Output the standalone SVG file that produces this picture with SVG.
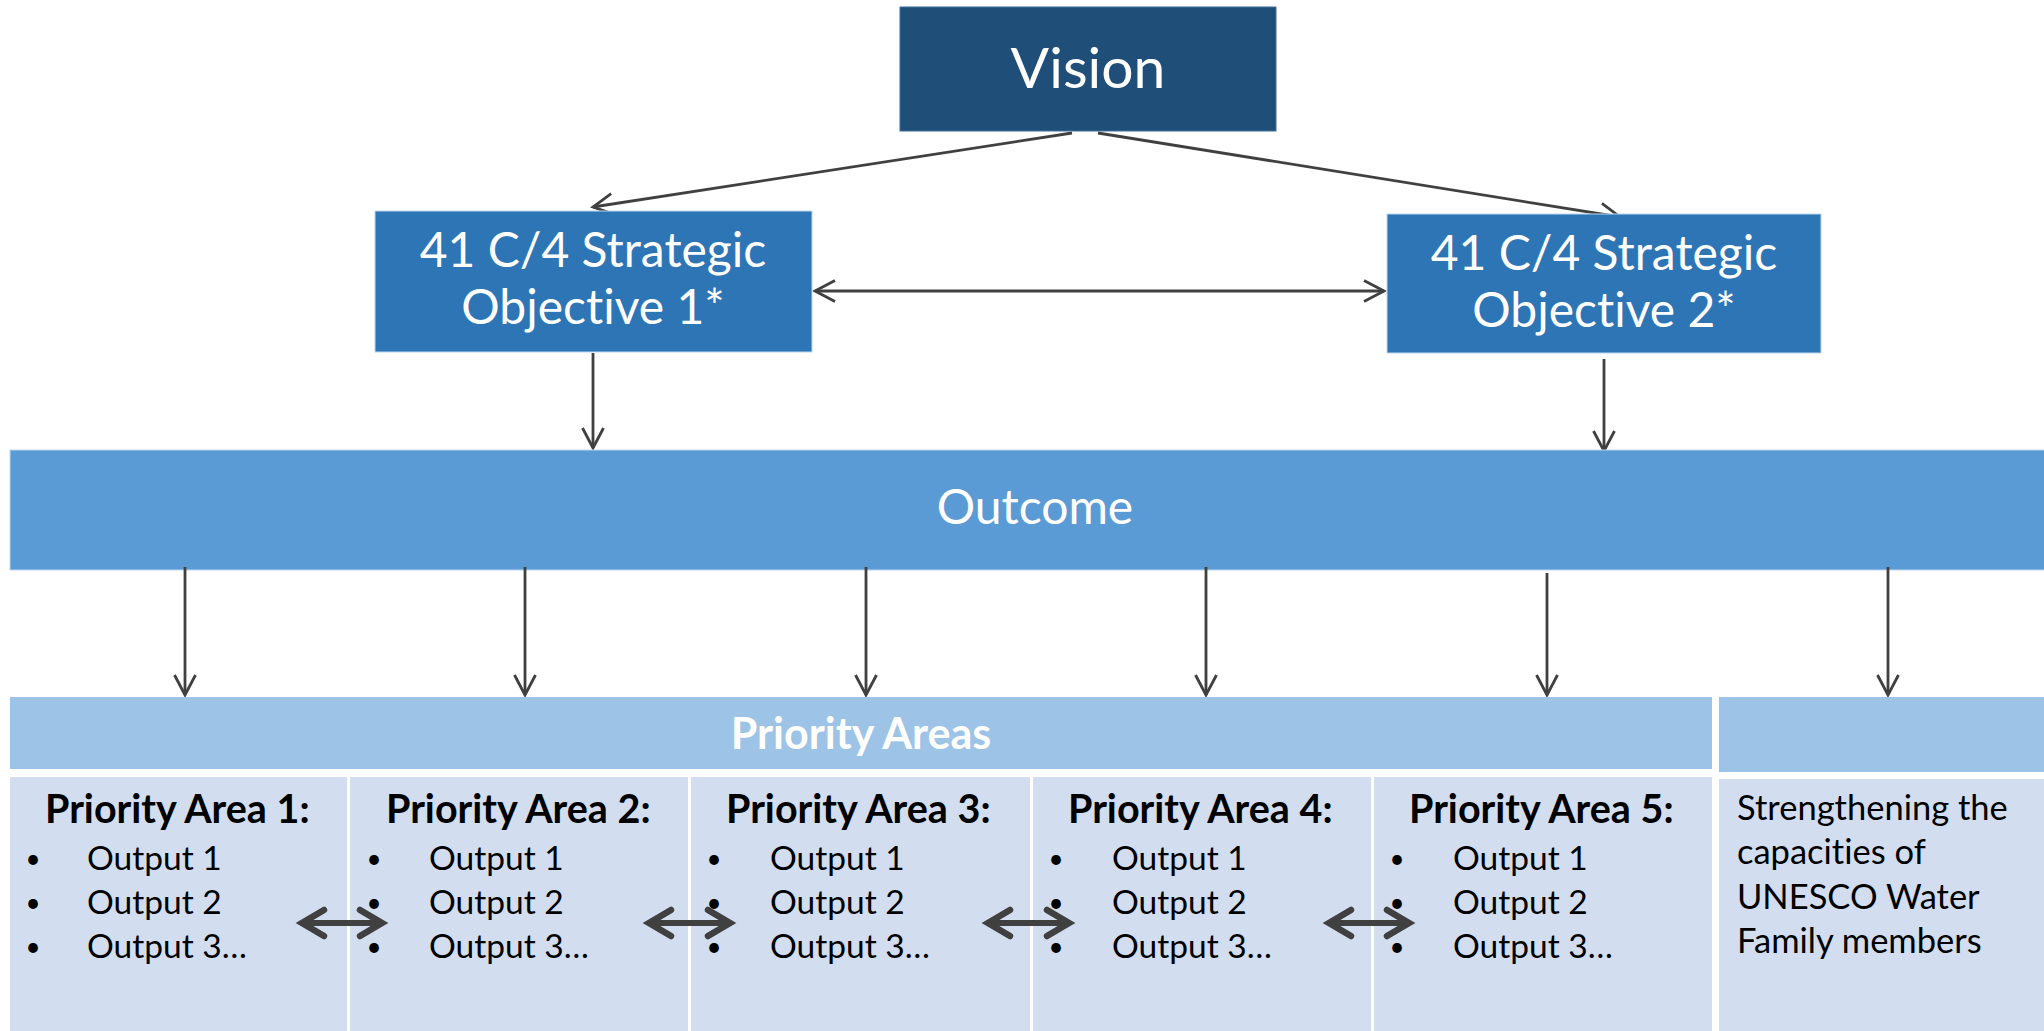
<svg xmlns="http://www.w3.org/2000/svg" width="2044" height="1031" viewBox="0 0 2044 1031">
<defs>
<style>
text{font-family:Lato,"Noto Sans",sans-serif;font-variant-ligatures:none;font-feature-settings:"liga" 0,"clig" 0}
.w{fill:#FFFFFF}
.k{fill:#000000}
.c{text-anchor:middle}
.b{font-weight:bold}
.bl{font-size:26px;text-anchor:middle}
.o{font-size:33.5px}
.t{font-size:39.5px;font-weight:bold}
.thin{stroke:#404040;stroke-width:2.8;fill:none}
.thick{stroke:#404040;stroke-width:6;fill:none}
</style>
<marker id="ah" markerUnits="userSpaceOnUse" orient="auto-start-reverse" markerWidth="40" markerHeight="40" viewBox="-30 -20 40 40" refX="0" refY="0" overflow="visible">
<path d="M -20 -10.5 L 0 0 L -20 10.5" fill="none" stroke="#404040" stroke-width="2.8"/>
</marker>
<marker id="ahb" markerUnits="userSpaceOnUse" orient="auto-start-reverse" markerWidth="50" markerHeight="50" viewBox="-35 -25 50 50" refX="0" refY="0" overflow="visible">
<path d="M -22 -13 L 0 0 L -22 13" fill="none" stroke="#404040" stroke-width="6.5" stroke-linecap="round" stroke-linejoin="miter"/>
</marker>
</defs>
<rect width="2044" height="1031" fill="#FFFFFF"/>

<g id="connectors">
<line class="thin" x1="1072" y1="133" x2="593" y2="207" marker-end="url(#ah)"/>
<line class="thin" x1="1098" y1="133" x2="1620" y2="217" marker-end="url(#ah)"/>
<line class="thin" x1="815" y1="291" x2="1384" y2="291" marker-start="url(#ah)" marker-end="url(#ah)"/>
<line class="thin" x1="593" y1="353" x2="593" y2="448" marker-end="url(#ah)"/>
<line class="thin" x1="1604" y1="359" x2="1604" y2="451" marker-end="url(#ah)"/>
</g>

<g id="vision">
<rect x="900" y="7" width="376" height="124" fill="#1F4E79" stroke="#41719C" stroke-width="1"/>
<text class="w c" x="1088" y="88" font-size="57">Vision</text>
</g>

<g id="objective1">
<rect x="375" y="211" width="437" height="141" fill="#2E75B6" stroke="#BDD7EE" stroke-width="1"/>
<text class="w c" x="593" y="267" font-size="48">41 C/4 Strategic</text>
<text class="w c" x="593" y="324" font-size="48">Objective 1*</text>
</g>

<g id="objective2">
<rect x="1387" y="214" width="434" height="139" fill="#2E75B6" stroke="#BDD7EE" stroke-width="1"/>
<text class="w c" x="1604" y="270" font-size="48">41 C/4 Strategic</text>
<text class="w c" x="1604" y="327" font-size="48">Objective 2*</text>
</g>

<g id="outcome">
<rect x="10" y="450" width="2050" height="120" fill="#5B9BD5" stroke="#BDD7EE" stroke-width="1"/>
<text class="w c" x="1035" y="524" font-size="48">Outcome</text>
</g>

<g id="connectors-outcome">
<line class="thin" x1="185" y1="567" x2="185" y2="695" marker-end="url(#ah)"/>
<line class="thin" x1="525" y1="567" x2="525" y2="695" marker-end="url(#ah)"/>
<line class="thin" x1="866" y1="567" x2="866" y2="695" marker-end="url(#ah)"/>
<line class="thin" x1="1206" y1="567" x2="1206" y2="695" marker-end="url(#ah)"/>
<line class="thin" x1="1547" y1="573" x2="1547" y2="695" marker-end="url(#ah)"/>
<line class="thin" x1="1888" y1="567" x2="1888" y2="695" marker-end="url(#ah)"/>
</g>

<g id="priority-areas-header">
<rect x="10" y="697" width="1702" height="72" fill="#9DC3E6"/>
<text class="w c b" x="861" y="749" font-size="43">Priority Areas</text>
</g>

<g id="other-header">
<rect x="1719" y="697" width="330" height="75" fill="#9DC3E6"/>
</g>

<g id="priority-area-1">
<rect x="10" y="777" width="337" height="260" fill="#D2DEEF"/>
<text class="k t" x="45" y="823">Priority Area 1:</text>
<text class="k bl" x="33" y="868">•</text>
<text class="k bl" x="33" y="912">•</text>
<text class="k bl" x="33" y="956">•</text>
<text class="k o" x="87" y="870">Output 1</text>
<text class="k o" x="87" y="914">Output 2</text>
<text class="k o" x="87" y="958">Output 3…</text>
</g>

<g id="priority-area-2">
<rect x="350" y="777" width="338" height="260" fill="#D2DEEF"/>
<text class="k t" x="386" y="823">Priority Area 2:</text>
<text class="k bl" x="374" y="868">•</text>
<text class="k bl" x="374" y="912">•</text>
<text class="k bl" x="374" y="956">•</text>
<text class="k o" x="429" y="870">Output 1</text>
<text class="k o" x="429" y="914">Output 2</text>
<text class="k o" x="429" y="958">Output 3…</text>
</g>

<g id="priority-area-3">
<rect x="691" y="777" width="339" height="260" fill="#D2DEEF"/>
<text class="k t" x="726" y="823">Priority Area 3:</text>
<text class="k bl" x="714" y="868">•</text>
<text class="k bl" x="714" y="912">•</text>
<text class="k bl" x="714" y="956">•</text>
<text class="k o" x="770" y="870">Output 1</text>
<text class="k o" x="770" y="914">Output 2</text>
<text class="k o" x="770" y="958">Output 3…</text>
</g>

<g id="priority-area-4">
<rect x="1033" y="777" width="338" height="260" fill="#D2DEEF"/>
<text class="k t" x="1068" y="823">Priority Area 4:</text>
<text class="k bl" x="1056" y="868">•</text>
<text class="k bl" x="1056" y="912">•</text>
<text class="k bl" x="1056" y="956">•</text>
<text class="k o" x="1112" y="870">Output 1</text>
<text class="k o" x="1112" y="914">Output 2</text>
<text class="k o" x="1112" y="958">Output 3…</text>
</g>

<g id="priority-area-5">
<rect x="1374" y="777" width="338" height="260" fill="#D2DEEF"/>
<text class="k t" x="1409" y="823">Priority Area 5:</text>
<text class="k bl" x="1397" y="868">•</text>
<text class="k bl" x="1397" y="912">•</text>
<text class="k bl" x="1397" y="956">•</text>
<text class="k o" x="1453" y="870">Output 1</text>
<text class="k o" x="1453" y="914">Output 2</text>
<text class="k o" x="1453" y="958">Output 3…</text>
</g>

<g id="capacities">
<rect x="1719" y="779" width="330" height="260" fill="#D2DEEF"/>
<text class="k" x="1737" y="820" font-size="34.5">Strengthening the</text>
<text class="k" x="1737" y="864" font-size="34.5">capacities of</text>
<text class="k" x="1737" y="909" font-size="34.5">UNESCO Water</text>
<text class="k" x="1737" y="953" font-size="34.5">Family members</text>
</g>

<g id="connectors-between-areas">
<line class="thick" x1="302" y1="923" x2="382" y2="923" marker-start="url(#ahb)" marker-end="url(#ahb)"/>
<line class="thick" x1="649" y1="923" x2="730" y2="923" marker-start="url(#ahb)" marker-end="url(#ahb)"/>
<line class="thick" x1="988" y1="923" x2="1069" y2="923" marker-start="url(#ahb)" marker-end="url(#ahb)"/>
<line class="thick" x1="1329" y1="923" x2="1409" y2="923" marker-start="url(#ahb)" marker-end="url(#ahb)"/>
</g>
</svg>
